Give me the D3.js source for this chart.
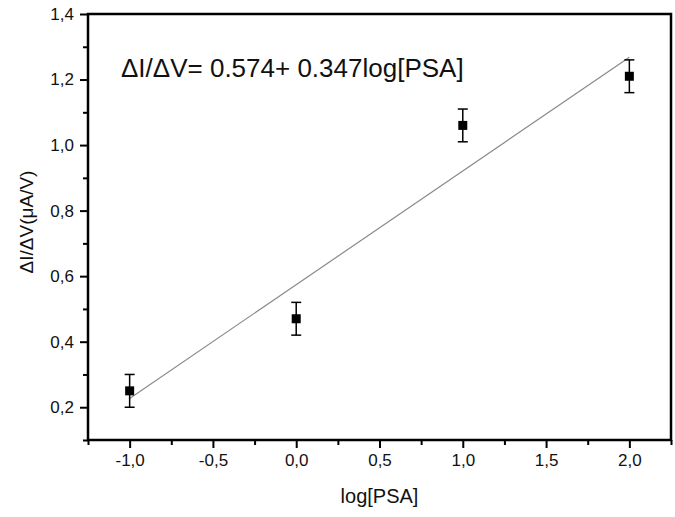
<!DOCTYPE html>
<html>
<head>
<meta charset="utf-8">
<script src="https://cdn.jsdelivr.net/npm/d3@7"></script>
<style>
  body { margin: 0; background: #fff; }
  text { font-family: "Liberation Sans", Arial, sans-serif; }
</style>
</head>
<body>
<div id="chart"></div>
<script>
var width = 675
var height = 517
var margin = {top: 14, right: 4, bottom: 77, left: 88}

// data
var logPSA = [-1, 0, 1, 2]
var response = [0.25, 0.47, 1.06, 1.21]
var errors = [0.05, 0.05, 0.05, 0.05]
var fitIntercept = 0.574
var fitSlope = 0.347
var xTicks = [-1.0, -0.5, 0.0, 0.5, 1.0, 1.5, 2.0]
var xMinor = [-1.25, -0.75, -0.25, 0.25, 0.75, 1.25, 1.75, 2.25]
var yTicks = [0.2, 0.4, 0.6, 0.8, 1.0, 1.2, 1.4]
var yMinor = [0.1, 0.3, 0.5, 0.7, 0.9, 1.1, 1.3]

var fmt = d => d3.format('.1f')(d).replace('.', ',').replace('−', '-')

var svg = d3.select('#chart').append('svg')
  .attr('width', width).attr('height', height)

var x = d3.scaleLinear().domain([-1.25, 2.25]).range([margin.left, width - margin.right])
var y = d3.scaleLinear().domain([0.1, 1.4]).range([height - margin.bottom, margin.top])

// minor ticks
svg.append('g')
  .attr('transform', `translate(0, ${height - margin.bottom})`)
  .call(d3.axisBottom(x).tickValues(xMinor).tickSize(5).tickFormat(''))
svg.append('g')
  .attr('transform', `translate(${margin.left}, 0)`)
  .call(d3.axisLeft(y).tickValues(yMinor).tickSize(5).tickFormat(''))

// major ticks
var xAxis = svg.append('g')
  .attr('transform', `translate(0, ${height - margin.bottom})`)
  .call(d3.axisBottom(x).tickValues(xTicks).tickSize(8).tickPadding(6).tickFormat(fmt))
var yAxis = svg.append('g')
  .attr('transform', `translate(${margin.left}, 0)`)
  .call(d3.axisLeft(y).tickValues(yTicks).tickSize(8).tickPadding(6).tickFormat(fmt))

svg.selectAll('.domain').remove()
svg.selectAll('.tick line').attr('stroke', '#000').attr('stroke-width', 2)
svg.selectAll('.tick text')
  .attr('font-size', '17px')
  .attr('font-family', '"Liberation Sans", Arial, sans-serif')
  .attr('fill', '#111')

// frame
svg.append('rect')
  .attr('x', margin.left).attr('y', margin.top)
  .attr('width', width - margin.left - margin.right)
  .attr('height', height - margin.top - margin.bottom)
  .attr('fill', 'none').attr('stroke', '#000').attr('stroke-width', 2.5)

// fit line
var fitX = d3.extent(logPSA)
svg.append('line')
  .attr('x1', x(fitX[0])).attr('y1', y(fitIntercept + fitSlope * fitX[0]))
  .attr('x2', x(fitX[1])).attr('y2', y(fitIntercept + fitSlope * fitX[1]))
  .attr('stroke', '#8a8a8a').attr('stroke-width', 1.2)

// error bars
var pts = logPSA.map((d, i) => ({x: d, y: response[i], e: errors[i]}))
var eb = svg.append('g').attr('stroke', '#000').attr('stroke-width', 1.5)
eb.selectAll('.v').data(pts).enter().append('line')
  .attr('x1', d => x(d.x)).attr('x2', d => x(d.x))
  .attr('y1', d => y(d.y - d.e)).attr('y2', d => y(d.y + d.e))
eb.selectAll('.t').data(pts).enter().append('line')
  .attr('x1', d => x(d.x) - 5).attr('x2', d => x(d.x) + 5)
  .attr('y1', d => y(d.y + d.e)).attr('y2', d => y(d.y + d.e))
eb.selectAll('.b').data(pts).enter().append('line')
  .attr('x1', d => x(d.x) - 5).attr('x2', d => x(d.x) + 5)
  .attr('y1', d => y(d.y - d.e)).attr('y2', d => y(d.y - d.e))

// markers
svg.selectAll('.pt').data(pts).enter().append('rect')
  .attr('x', d => x(d.x) - 4.5).attr('y', d => y(d.y) - 4.5)
  .attr('width', 9).attr('height', 9).attr('fill', '#000')

// equation
svg.append('text')
  .attr('x', 121).attr('y', 77)
  .attr('font-size', '26px').attr('fill', '#111')
  .text('ΔI/ΔV= 0.574+ 0.347log[PSA]')

// axis titles
svg.append('text')
  .attr('x', (margin.left + width - margin.right) / 2).attr('y', 503)
  .attr('text-anchor', 'middle').attr('font-size', '20px').attr('fill', '#111')
  .text('log[PSA]')

svg.append('text')
  .attr('transform', 'translate(33, 222) rotate(-90)')
  .attr('text-anchor', 'middle').attr('font-size', '19px').attr('fill', '#111')
  .text('ΔI/ΔV(μA/V)')
</script>
</body>
</html>
